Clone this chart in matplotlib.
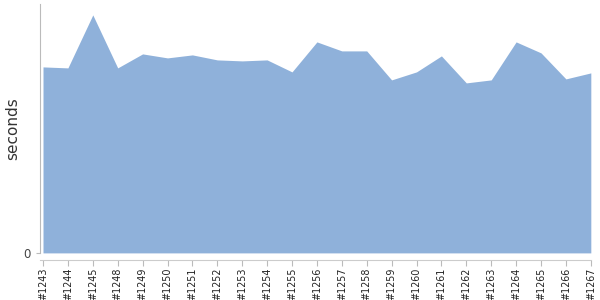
import matplotlib
matplotlib.use("Agg")
import matplotlib.pyplot as plt

builds = ["#1243", "#1244", "#1245", "#1248", "#1249", "#1250", "#1251", "#1252",
          "#1253", "#1254", "#1255", "#1256", "#1257", "#1258", "#1259", "#1260",
          "#1261", "#1262", "#1263", "#1264", "#1265", "#1266", "#1267"]
seconds = [186, 185, 238, 185, 199, 195, 198, 193, 192, 193, 181, 211,
           202, 202, 173, 181, 197, 170, 173, 211, 200, 174, 180]

x = list(range(len(builds)))

fig = plt.figure(figsize=(6, 3), dpi=100)
ax = fig.add_axes([0.0667, 0.157, 0.918, 0.83])

ax.fill_between(x, 0, seconds, color="#8fb1da", linewidth=0)

ax.set_xlim(-0.12, len(builds) - 1)
ax.set_ylim(0, 249)

for s in ["top", "right"]:
    ax.spines[s].set_visible(False)
ax.spines["left"].set_color("#bbbbbb")
ax.spines["bottom"].set_color("#cccccc")
ax.spines["bottom"].set_position(("outward", 5))
ax.tick_params(axis="both", colors="#bbbbbb", length=4, width=0.8)
ax.tick_params(axis="x", labelcolor="#222", labelrotation=90, labelsize=6.9, pad=1.5)
ax.tick_params(axis="y", labelcolor="#444", length=3, labelsize=8.5)

ax.set_xticks(x)
ax.set_xticklabels(builds)
ax.set_yticks([0])
ax.set_yticklabels(["0"])
ax.set_ylabel("seconds", fontsize=11, color="#333")
ax.yaxis.set_label_coords(-0.036, 0.5)

fig.savefig("out.png", dpi=100)
